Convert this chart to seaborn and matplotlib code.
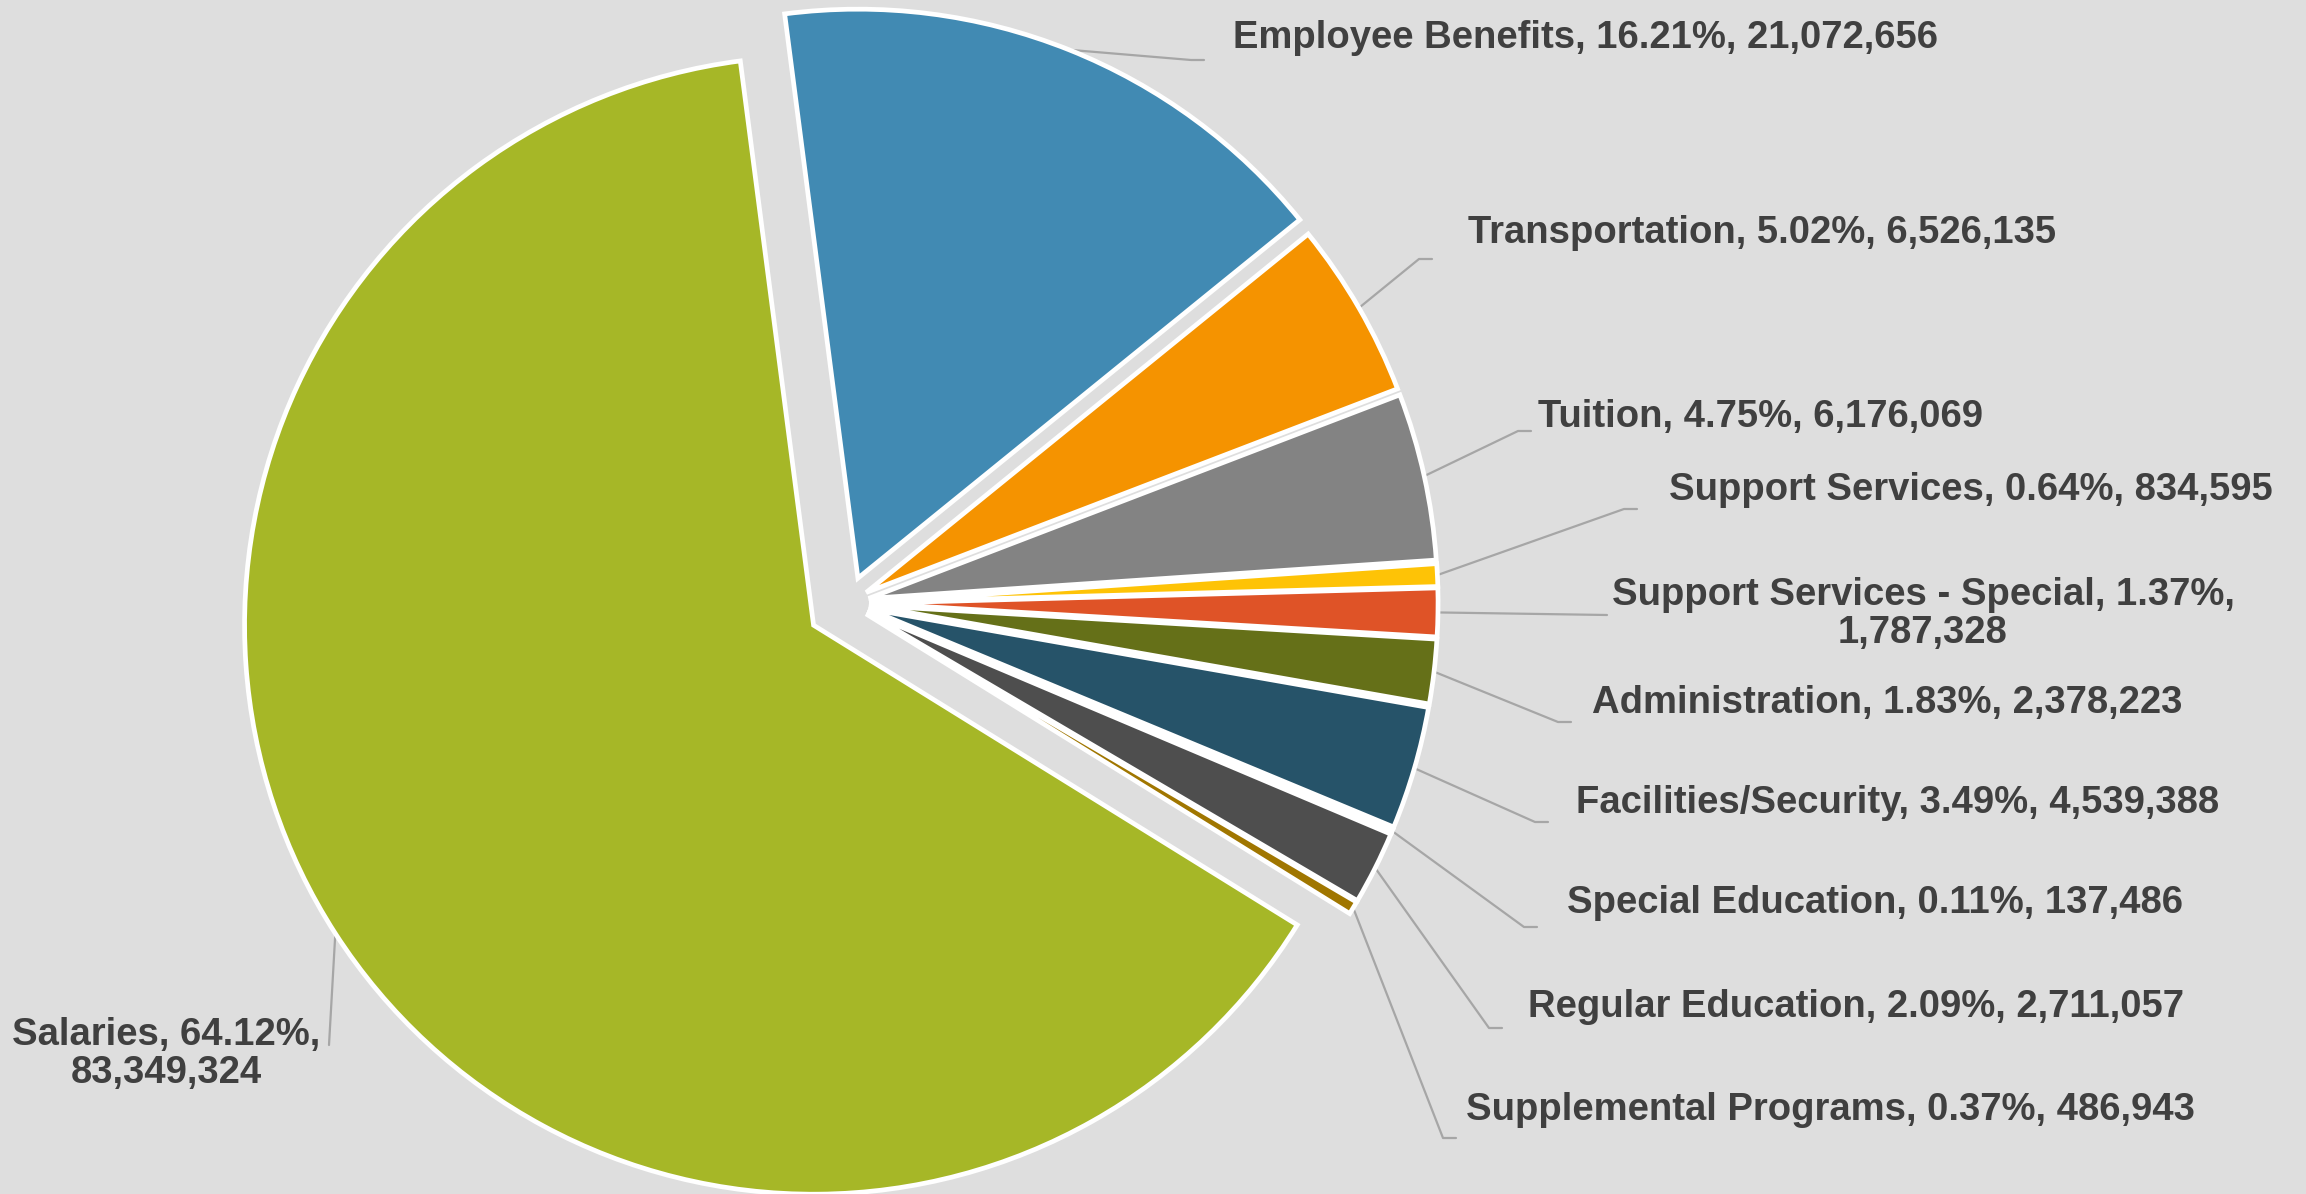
import numpy as np
import seaborn as sns
import matplotlib.pyplot as plt

# Données (ordre horaire à partir du haut)
categories = ['Employee Benefits', 'Transportation', 'Tuition', 'Support Services',
              'Support Services - Special', 'Administration', 'Facilities/Security',
              'Special Education', 'Regular Education', 'Supplemental Programs', 'Salaries']
amounts = [21072656, 6526135, 6176069, 834595, 1787328, 2378223, 4539388,
           137486, 2711057, 486943, 83349324]
percents = ['16.21%', '5.02%', '4.75%', '0.64%', '1.37%', '1.83%', '3.49%',
            '0.11%', '2.09%', '0.37%', '64.12%']
colors = ['#418AB3', '#F59300', '#838383', '#FEC306', '#DF5327', '#657018', '#265369',
          '#8F3A1B', '#4E4E4E', '#A07600', '#A6B727']
explode = [0.047, 0.037, 0.037, 0.037, 0.037, 0.037, 0.037, 0.037, 0.037, 0.037, 0.072]

# Texte des étiquettes
labels = [f"{c}, {p}, {a:,}" for c, p, a in zip(categories, percents, amounts)]
labels[4] = f"{categories[4]}, {percents[4]},\n{amounts[4]:,}"
labels[10] = f"{categories[10]}, {percents[10]},\n{amounts[10]:,}"

# Positions des étiquettes (pixels, y depuis le bas)
label_pos = [(1233, 1156), (1468, 961), (1538, 777), (1669, 704), (1923, 580),
             (1592, 491), (1576, 391), (1567, 291), (1528, 187), (1466, 84), (166, 140)]
label_ha = ['left'] * 4 + ['center'] + ['left'] * 5 + ['center']
# coude des lignes de rappel : (écart horizontal au texte, décalage vertical)
elbows = [(-29, -22), (-36, -26), (-7, -14), (-32, -19), (-316, -1),
          (-21, -19), (-28, -19), (-30, -24), (-26, -21), (-10, -28), (163, 9)]

sns.set_style('white')
plt.rcParams['font.family'] = ['Liberation Sans', 'DejaVu Sans']

W, H = 2306, 1194
fig = plt.figure(figsize=(W / 100, H / 100), dpi=100, facecolor='#DEDEDE')
ax = fig.add_axes([0, 0, 1, 1])
ax.set_facecolor('#DEDEDE')

center = (848, 591)
radius = 569
# explode de matplotlib est en unités de données -> on multiplie par le rayon
wedges, _ = ax.pie(amounts, colors=colors, explode=[e * radius for e in explode],
                   startangle=97.4, counterclock=False, center=center, radius=radius,
                   wedgeprops=dict(edgecolor='white', linewidth=3.4))

ax.set_xlim(0, W)
ax.set_ylim(0, H)
ax.set_aspect('equal')
ax.axis('off')

line_col = '#A6A6A6'
txt_col = '#404040'
for i, w in enumerate(wedges):
    th = np.deg2rad((w.theta1 + w.theta2) / 2)
    cx, cy = w.center
    px, py = cx + w.r * np.cos(th), cy + w.r * np.sin(th)
    tx, ty = label_pos[i]
    dx, dy = elbows[i]
    ex, ey = tx + dx, ty + dy
    if i in (4, 10):
        ax.plot([px, ex], [py, ey], color=line_col, lw=1.6, zorder=0)
    else:
        ax.plot([px, ex - 13, ex], [py, ey, ey], color=line_col, lw=1.6, zorder=0)
    ax.text(tx, ty, labels[i], ha=label_ha[i], va='center', fontsize=27.5,
            fontweight='bold', color=txt_col, linespacing=1.05)

fig.savefig('out.png', dpi=100, facecolor=fig.get_facecolor())
